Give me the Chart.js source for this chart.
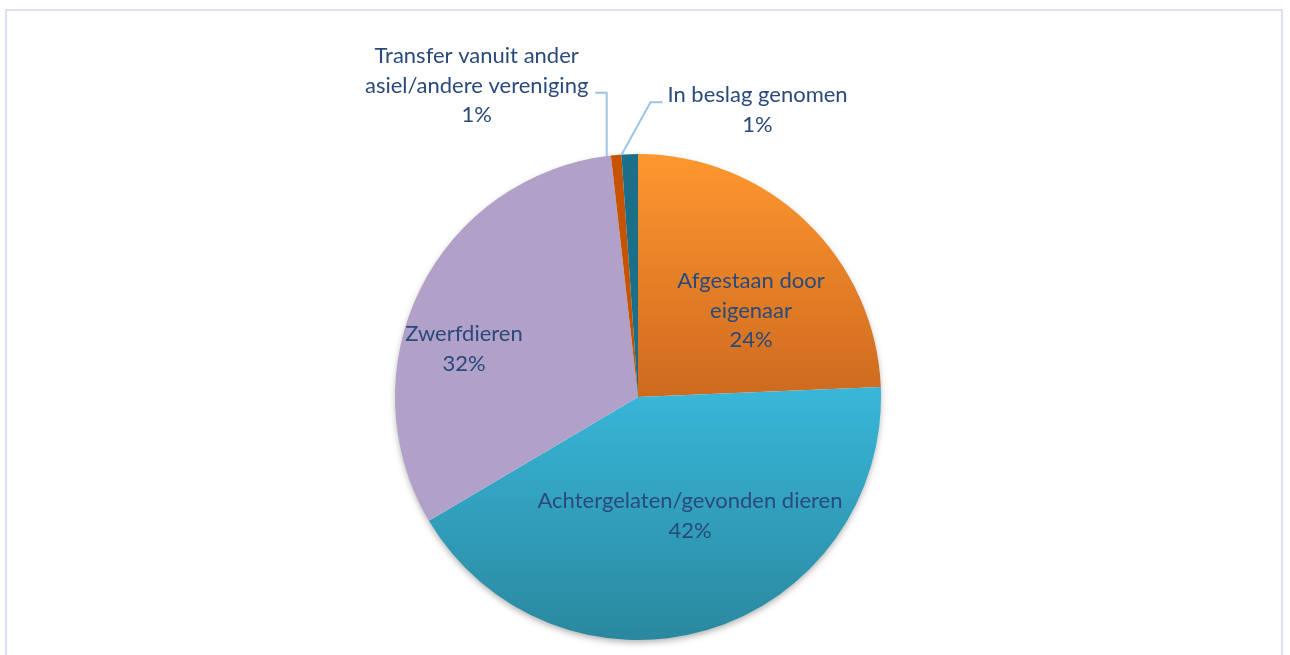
<!DOCTYPE html>
<html>
<head>
<meta charset="utf-8">
<title>Herkomst dieren</title>
<script src="https://cdn.jsdelivr.net/npm/chart.js@4.4.1/dist/chart.umd.min.js"></script>
<style>
    html, body {
        margin: 0;
        padding: 0;
        background: #fff;
    }
    #wrap {
        position: relative;
        width: 1290px;
        height: 655px;
        overflow: hidden;
    }
    #frame {
        position: absolute;
        left: 5px;
        top: 9px;
        width: 1278px;
        height: 700px;
        border: 2px solid #dae3f3;
        box-sizing: border-box;
    }
    #chart {
        position: absolute;
        left: 0;
        top: 0;
    }
</style>
</head>
<body>
<div id="wrap">
    <div id="frame"></div>
    <canvas id="chart" width="1290" height="655"></canvas>
</div>
<script>
// Data (share of each slice, in %)
const categories = [
    'Afgestaan door eigenaar',
    'Achtergelaten/gevonden dieren',
    'Zwerfdieren',
    'Transfer vanuit ander asiel/andere vereniging',
    'In beslag genomen'
];
const shares = [24.35, 42.14, 31.73, 0.69, 1.09];

// How each category name is broken over lines in the labels
const labelLines = [
    ['Afgestaan door', 'eigenaar'],
    ['Achtergelaten/gevonden dieren'],
    ['Zwerfdieren'],
    ['Transfer vanuit ander', 'asiel/andere vereniging'],
    ['In beslag genomen']
];

// Slice fills: [top colour, bottom colour, gradient from, to (in radii from centre)]
const sliceFills = [
    ['#ff972f', '#cd6a1f', -1, 0],
    ['#38b5d7', '#2a889f', 0, 1],
    ['#b1a0c7', '#b1a0c7', -1, 1],
    ['#c65300', '#c65300', -1, 1],
    ['#1c6f88', '#1c6f88', -1, 1]
];

// Label placement, relative to the pie centre in radii (first baseline)
const labelPlace = [
    { dx: 0.465, dy: -0.447 },
    { dx: 0.214, dy: 0.458 },
    { dx: -0.716, dy: -0.230 },
    { dx: -0.664, dy: -1.373, leader: { line: 1, side: 'right', frac: -0.4 } },
    { dx: 0.492, dy: -1.213, leader: { line: 0, side: 'left', frac: 0.02 } }
];

const textColor = '#2a4a7c';
const leaderColor = '#9dc3e6';
const fontSize = 22;
const lineHeight = 29.5;
const fontFamily = 'Lato, "Open Sans", sans-serif';

const total = shares.reduce((a, b) => a + b, 0);

const pieExtras = {
    id: 'pieExtras',
    beforeDatasetsDraw(chart) {
        // soft drop shadow under the whole pie
        const arc = chart.getDatasetMeta(0).data[0];
        if (!arc) return;
        const ctx = chart.ctx;
        ctx.save();
        ctx.shadowColor = 'rgba(0,0,0,0.35)';
        ctx.shadowBlur = 7;
        ctx.shadowOffsetY = 3;
        ctx.fillStyle = '#fff';
        ctx.beginPath();
        ctx.arc(arc.x, arc.y, arc.outerRadius - 1, 0, Math.PI * 2);
        ctx.fill();
        ctx.restore();
    },
    afterDatasetsDraw(chart) {
        const ctx = chart.ctx;
        const meta = chart.getDatasetMeta(0);
        ctx.save();
        ctx.font = fontSize + 'px ' + fontFamily;
        ctx.fillStyle = textColor;
        ctx.textAlign = 'center';
        ctx.textBaseline = 'alphabetic';
        meta.data.forEach((arc, i) => {
            const p = labelPlace[i];
            const r = arc.outerRadius;
            const x = arc.x + p.dx * r;
            const y0 = arc.y + p.dy * r;
            const pct = Math.round(shares[i] / total * 100) + '%';
            const lines = labelLines[i].concat([pct]);
            lines.forEach((t, k) => ctx.fillText(t, x, y0 + k * lineHeight));

            if (p.leader) {
                const L = p.leader;
                const ly = y0 + L.line * lineHeight;
                const w = ctx.measureText(lines[L.line]).width;
                const a = arc.startAngle + L.frac * (arc.endAngle - arc.startAngle);
                const ax = arc.x + r * Math.cos(a);
                const ay = arc.y + r * Math.sin(a);
                let sx, ex;
                if (L.side === 'right') {
                    sx = x + w / 2 + 7;
                    ex = ax;
                } else {
                    sx = x - w / 2 - 5;
                    ex = sx - 12;
                }
                ctx.save();
                ctx.strokeStyle = leaderColor;
                ctx.lineWidth = 2;
                ctx.beginPath();
                ctx.moveTo(sx, ly);
                ctx.lineTo(ex, ly);
                ctx.lineTo(ax, ay);
                ctx.stroke();
                ctx.restore();
            }
        });
        ctx.restore();
    }
};

function sliceBackground(context) {
    const f = sliceFills[context.dataIndex];
    const area = context.chart.chartArea;
    if (!area || f[0] === f[1]) return f[0];
    const cy = (area.top + area.bottom) / 2;
    const r = Math.min(area.right - area.left, area.bottom - area.top) / 2;
    const g = context.chart.ctx.createLinearGradient(0, cy + f[2] * r, 0, cy + f[3] * r);
    g.addColorStop(0, f[0]);
    g.addColorStop(1, f[1]);
    return g;
}

new Chart(document.getElementById('chart'), {
    type: 'pie',
    data: {
        labels: categories,
        datasets: [{
            data: shares,
            backgroundColor: sliceBackground,
            borderWidth: 0
        }]
    },
    options: {
        responsive: false,
        animation: false,
        layout: {
            padding: { top: 154, bottom: 15, left: 0, right: 14 }
        },
        plugins: {
            legend: { display: false },
            tooltip: { enabled: false }
        }
    },
    plugins: [pieExtras]
});
</script>
</body>
</html>
